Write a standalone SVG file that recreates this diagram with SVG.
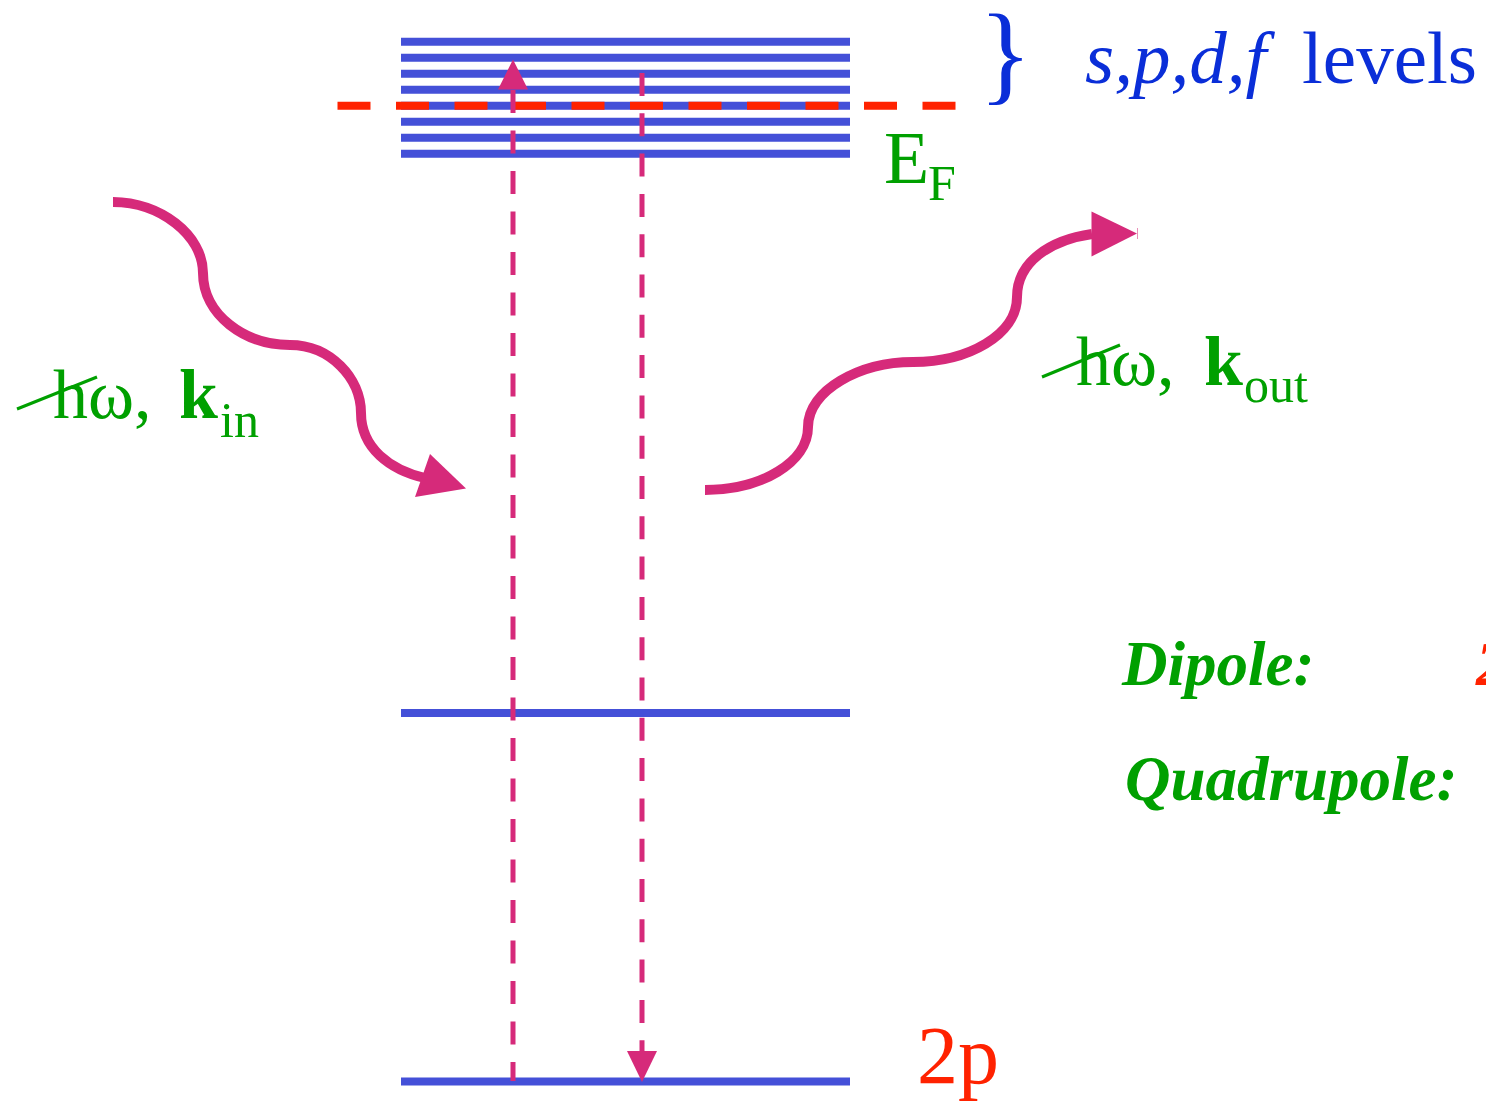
<svg xmlns="http://www.w3.org/2000/svg" width="1486" height="1108" viewBox="0 0 1486 1108">
<defs>
<style>
.lvl{stroke:#4450d8;stroke-width:8;fill:none}
.ef{stroke:#ff2200;stroke-width:8;stroke-dasharray:33 25.5;fill:none}
.tr{stroke:#d62a7a;stroke-width:5;fill:none}
.ph{stroke:#d62a7a;stroke-width:10;fill:none}
.head{fill:#d62a7a}
.t{font-family:"Liberation Serif","Times New Roman",serif}
.g{fill:#00a000}
.b{fill:#0a2ed8}
.r{fill:#ff2200}
</style>
</defs>
<rect width="1486" height="1108" fill="#ffffff"/>
<g id="band">
<path class="lvl" d="M401,41.7H850M401,57.7H850M401,73.7H850M401,89.7H850M401,105.7H850M401,121.7H850M401,137.7H850M401,153.7H850"/>
</g>
<g id="fermi-level">
<path class="ef" d="M337.5,105.7H956"/>
</g>
<g id="level-mid"><path class="lvl" d="M401,713H850"/></g>
<g id="level-2p"><path class="lvl" d="M401,1081.5H850"/></g>
<g id="connectors">
<path class="tr" d="M513,90V1081" stroke-dasharray="23 17.5"/>
<polygon class="head" points="513,59.5 498,89.5 528,89.5"/>
<path class="tr" d="M642,73V1052" stroke-dasharray="23 17.3"/>
<polygon class="head" points="642,1082 627,1051 657,1051"/>
<path class="ph" d="M113,202C160,202 203,235 203,273C203,315 245,345 290,345C330,345 361,378 361,413C361,448 390,470 425,478"/>
<polygon class="head" points="466,488.5 430,454 415,497"/>
<path class="ph" d="M705,490C762,490 808,462 808,427C808,390 860,362 913,362C968,362 1017,335 1017,297C1017,262 1050,240 1092,234"/>
<polygon class="head" points="1137,233.5 1091.5,211.5 1091.5,256.5"/>
<path d="M1137.5,228V239" stroke="#e890b8" stroke-width="1"/>
</g>
<g id="label-levels">
<text class="t b" x="979" y="90" font-size="110">}</text>
<text class="t b" x="1085" y="83" font-size="75"><tspan font-style="italic">s,p,d,f</tspan><tspan x="1302">levels</tspan></text>
</g>
<g id="label-ef">
<text class="t g" x="884" y="183" font-size="74">E</text>
<text class="t g" x="928" y="200" font-size="50">F</text>
</g>
<g id="label-2p">
<text class="t r" x="917" y="1083" font-size="82">2p</text>
</g>
<g id="label-in">
<path d="M17,409L97,377" stroke="#00a000" stroke-width="3"/>
<text class="t g" x="53" y="418" font-size="70">hω,<tspan x="179" font-weight="bold">k</tspan><tspan x="220" y="437" font-size="50">in</tspan></text>
</g>
<g id="label-out">
<path d="M1042,377L1120,345" stroke="#00a000" stroke-width="3"/>
<text class="t g" x="1076" y="385" font-size="70">hω,<tspan x="1204" font-weight="bold">k</tspan><tspan x="1244" y="402" font-size="50">out</tspan></text>
</g>
<g id="label-dipole">
<text class="t g" x="1122" y="685" font-size="63" font-weight="bold" font-style="italic">Dipole:</text>
<text class="t r" x="1476" y="685" font-size="63" font-weight="bold" font-style="italic">2</text>
</g>
<g id="label-quadrupole">
<text class="t g" x="1125" y="800" font-size="63" font-weight="bold" font-style="italic">Quadrupole:</text>
</g>
</svg>
